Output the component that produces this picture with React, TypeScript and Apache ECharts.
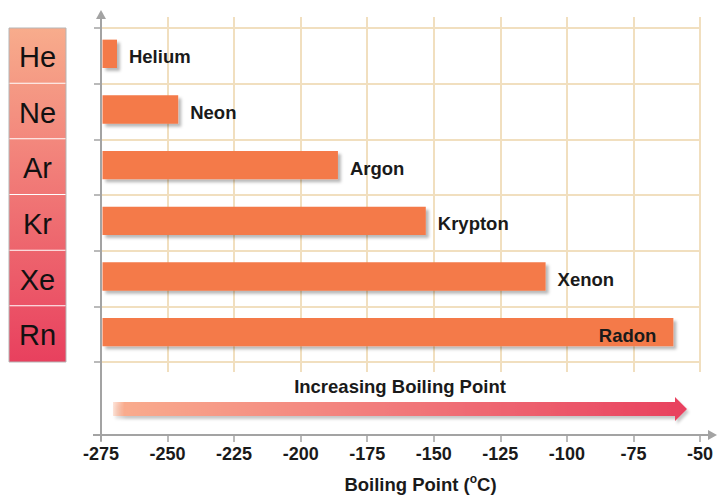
import React, { useEffect, useRef } from 'react';
import * as echarts from 'echarts';

const elementNames = ['Helium', 'Neon', 'Argon', 'Krypton', 'Xenon', 'Radon'];
const elementSymbols = ['He', 'Ne', 'Ar', 'Kr', 'Xe', 'Rn'];
const boilingPoints = [-269, -246, -186, -153, -108, -60];
const axisMin = -275;
const axisMax = -50;
const axisStep = 25;
const xAxisTitle = 'Boiling Point';
const arrowCaption = 'Increasing Boiling Point';

const FONT = '"Liberation Sans", Arial, Helvetica, sans-serif';
const TOP_RGB = [248, 172, 140];
const BOT_RGB = [232, 64, 94];
const mix = (t: number) =>
  `rgb(${TOP_RGB.map((c, k) => Math.round(c + (BOT_RGB[k] - c) * t)).join(',')})`;

export default function App() {
  const ref = useRef<HTMLDivElement>(null);
  useEffect(() => {
    const chart = echarts.init(ref.current!, null, { renderer: 'svg' });
    const axisGray = '#a3a3a3';
    const gridColor = '#f1dfbf';
    const n = elementSymbols.length;

    const option: any = {
      animation: false,
      backgroundColor: '#ffffff',
      grid: [
        { left: 101, right: 17, top: 28, bottom: 133, containLabel: false, outerBoundsMode: 'none' },
        { left: 101, right: 17, top: 17, bottom: 123, containLabel: false, outerBoundsMode: 'none' },
      ],
      xAxis: [
        {
          type: 'value',
          gridIndex: 0,
          min: axisMin,
          max: axisMax,
          interval: axisStep,
          offset: 73,
          axisLine: { show: false },
          axisTick: { show: true, length: 7, lineStyle: { color: axisGray, width: 1.5 } },
          splitLine: { show: false },
          axisLabel: {
            margin: 10,
            color: '#1a1a1a',
            fontSize: 18,
            fontWeight: 'bold',
            fontFamily: FONT,
          },
          name: xAxisTitle + ' ({sup|o}C)',
          nameLocation: 'middle',
          nameGap: 38,
          nameTextStyle: {
            color: '#1a1a1a',
            fontSize: 18.5,
            fontWeight: 'bold',
            fontFamily: FONT,
            padding: [0, 0, 0, 40],
            rich: {
              sup: {
                fontSize: 12,
                fontWeight: 'bold',
                fontFamily: FONT,
                color: '#1a1a1a',
                verticalAlign: 'top',
                padding: [0, 0, 10, 0],
              },
            },
          },
        },
        {
          type: 'value',
          gridIndex: 1,
          min: axisMin,
          max: axisMax,
          interval: axisStep,
          axisLine: { show: false },
          axisTick: { show: false },
          axisLabel: { show: false },
          splitLine: { show: true, lineStyle: { color: gridColor, width: 2 } },
        },
      ],
      yAxis: [
        {
          type: 'category',
          gridIndex: 0,
          inverse: true,
          data: elementNames,
          axisLine: { show: false },
          axisTick: { show: true, length: 7, lineStyle: { color: axisGray, width: 1.5 } },
          axisLabel: { show: false },
          splitLine: { show: true, lineStyle: { color: gridColor, width: 2 } },
        },
        {
          type: 'value',
          gridIndex: 1,
          show: false,
          splitLine: { show: false },
        },
      ],
      series: [
        {
          type: 'custom',
          name: 'symbols',
          xAxisIndex: 0,
          yAxisIndex: 0,
          clip: false,
          z: 5,
          data: elementSymbols.map((s, i) => [axisMin, elementNames[i]]),
          encode: { x: 0, y: 1 },
          renderItem: (params: any, api: any) => {
            const i = params.dataIndex;
            const cat = api.value(1);
            const c = api.coord([axisMin, cat]);
            const bh = api.size([0, 1])[1];
            const top = c[1] - bh / 2;
            const bottom = c[1] + bh / 2;
            const x0 = 9;
            const x1 = 66;
            const children: any[] = [
              {
                type: 'rect',
                shape: { x: x0, y: top, width: x1 - x0, height: bh },
                style: {
                  fill: new echarts.graphic.LinearGradient(0, 0, 0, 1, [
                    { offset: 0, color: mix(i / n) },
                    { offset: 1, color: mix((i + 1) / n) },
                  ]),
                },
              },
              { type: 'line', shape: { x1: x0, y1: top, x2: x0, y2: bottom }, style: { stroke: '#b5b5b5', lineWidth: 1 } },
              { type: 'line', shape: { x1: x1, y1: top, x2: x1, y2: bottom }, style: { stroke: '#b5b5b5', lineWidth: 1 } },
              {
                type: 'text',
                style: {
                  text: elementSymbols[i],
                  x: (x0 + x1) / 2,
                  y: c[1] + 1,
                  align: 'center',
                  verticalAlign: 'middle',
                  textAlign: 'center',
                  textVerticalAlign: 'middle',
                  fill: '#111111',
                  font: `29px ${FONT}`,
                },
              },
            ];
            if (i === 0) {
              children.push({ type: 'line', shape: { x1: x0, y1: top, x2: x1, y2: top }, style: { stroke: '#b5b5b5', lineWidth: 1 } });
            }
            if (i === n - 1) {
              children.push({ type: 'line', shape: { x1: x0, y1: bottom, x2: x1, y2: bottom }, style: { stroke: '#b5b5b5', lineWidth: 1 } });
            } else {
              children.push({ type: 'line', shape: { x1: x0 + 0.5, y1: bottom, x2: x1 - 0.5, y2: bottom }, style: { stroke: '#ffffff', lineWidth: 2 } });
            }
            return { type: 'group', children };
          },
        },
        {
          type: 'custom',
          name: 'Boiling Point',
          xAxisIndex: 0,
          yAxisIndex: 0,
          clip: false,
          z: 4,
          data: boilingPoints.map((v, i) => [v, elementNames[i]]),
          encode: { x: 0, y: 1 },
          renderItem: (params: any, api: any) => {
            const i = params.dataIndex;
            const v = api.value(0);
            const cat = api.value(1);
            const start = api.coord([axisMin, cat]);
            const end = api.coord([v, cat]);
            const right = api.coord([axisMax, cat])[0];
            const bh = api.size([0, 1])[1];
            const h = bh * 0.51;
            const cy = start[1] - 2;
            const inside = end[0] + 90 > right;
            return {
              type: 'group',
              children: [
                {
                  type: 'rect',
                  shape: { x: start[0] + 1.5, y: cy - h / 2, width: end[0] - start[0] - 1.5, height: h },
                  style: {
                    fill: '#f47a4a',
                    shadowBlur: 3,
                    shadowOffsetX: 3,
                    shadowOffsetY: 3,
                    shadowColor: 'rgba(0,0,0,0.28)',
                  },
                },
                {
                  type: 'text',
                  style: {
                    text: elementNames[i],
                    x: inside ? end[0] - 17 : end[0] + 12,
                    y: start[1] + 1,
                    align: inside ? 'right' : 'left',
                    verticalAlign: 'middle',
                    textAlign: inside ? 'right' : 'left',
                    textVerticalAlign: 'middle',
                    fill: '#1a1a1a',
                    font: `bold 18.5px ${FONT}`,
                  },
                },
              ],
            };
          },
        },
      ],
      graphic: [
        { type: 'line', z: 10, shape: { x1: 101, y1: 441, x2: 101, y2: 16 }, style: { stroke: axisGray, lineWidth: 2 } },
        { type: 'polygon', z: 10, shape: { points: [[101, 10], [106, 19], [96, 19]] }, style: { fill: axisGray } },
        { type: 'line', z: 10, shape: { x1: 93, y1: 435, x2: 711, y2: 435 }, style: { stroke: axisGray, lineWidth: 2 } },
        { type: 'polygon', z: 10, shape: { points: [[717, 435], [708, 430], [708, 440]] }, style: { fill: axisGray } },
        {
          type: 'polygon',
          z: 10,
          shape: {
            points: [[113, 402], [675, 402], [675, 397], [687, 409], [675, 421], [675, 416], [113, 416]],
          },
          style: {
            fill: new echarts.graphic.LinearGradient(0, 0, 1, 0, [
              { offset: 0, color: 'rgba(250,176,146,0.35)' },
              { offset: 0.02, color: '#f9ab8d' },
              { offset: 0.5, color: '#f1787a' },
              { offset: 1, color: '#e8405e' },
            ]),
            shadowBlur: 3,
            shadowOffsetX: 2,
            shadowOffsetY: 3,
            shadowColor: 'rgba(0,0,0,0.22)',
          },
        },
        {
          type: 'text',
          z: 10,
          style: {
            text: arrowCaption,
            x: 400,
            y: 386,
            align: 'center',
            verticalAlign: 'middle',
            textAlign: 'center',
            textVerticalAlign: 'middle',
            fill: '#1a1a1a',
            font: `bold 18.5px ${FONT}`,
          },
        },
      ],
    };
    chart.setOption(option);
    return () => chart.dispose();
  }, []);
  return <div ref={ref} style={{ position: 'absolute', left: 0, top: 0, width: 717, height: 495 }} />;
}
